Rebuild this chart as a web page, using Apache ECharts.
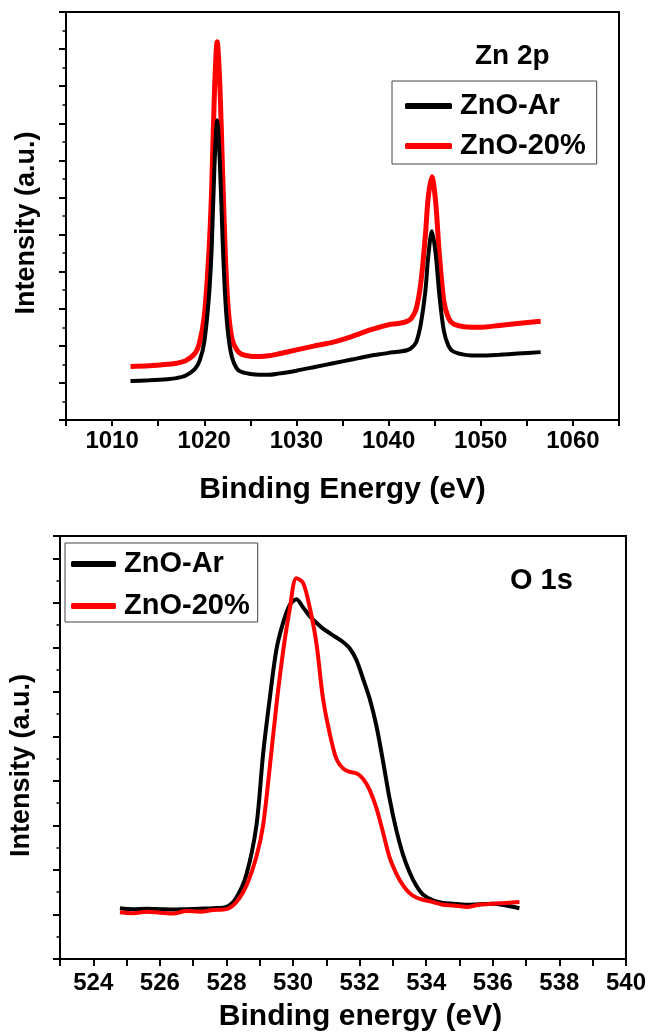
<!DOCTYPE html>
<html><head><meta charset="utf-8">
<script src="https://cdn.jsdelivr.net/npm/echarts@6/dist/echarts.min.js"></script>
<style>html,body{margin:0;padding:0;background:#fff}#c{width:649px;height:1036px}</style>
</head><body><div id="c"></div>
<script>
// ---- Zn 2p panel ----
const znEnergy = [1012,1014,1016,1017,1018,1019,1019.5,1020,1020.5,1020.8,1021.1,1021.4,1021.7,1022,1022.3,1022.6,1023,1023.5,1024,1025,1026,1027,1028,1030,1032,1034,1036,1038,1039,1040,1041,1042,1042.5,1043,1043.5,1044,1044.3,1044.7,1045.1,1045.5,1046,1046.5,1047,1048,1049,1050,1052,1054,1056.5];
const znAr = [1.05,1.07,1.10,1.13,1.20,1.38,1.60,2.10,3.30,4.60,6.80,8.08,6.90,4.80,3.20,2.30,1.70,1.40,1.30,1.24,1.22,1.22,1.25,1.33,1.43,1.53,1.63,1.73,1.77,1.81,1.84,1.88,1.95,2.10,2.60,3.50,4.40,5.09,4.50,3.40,2.40,2.00,1.85,1.77,1.74,1.74,1.76,1.79,1.83];
const zn20 = [1.44,1.46,1.50,1.53,1.60,1.80,2.10,2.80,4.50,6.20,8.80,10.20,9.00,6.60,4.40,3.00,2.20,1.90,1.78,1.72,1.71,1.73,1.78,1.89,2.00,2.10,2.25,2.43,2.50,2.57,2.60,2.66,2.75,3.00,3.70,5.00,6.00,6.56,5.90,4.50,3.20,2.75,2.60,2.52,2.50,2.50,2.55,2.60,2.66];
const znTickLabels = [1010,1020,1030,1040,1050,1060];

// ---- O 1s panel ----
const oEnergy = [524.8,525.2,525.6,526.0,526.4,526.8,527.2,527.6,528.0,528.3,528.6,528.9,529.1,529.3,529.5,529.7,529.9,530.1,530.3,530.5,530.7,530.9,531.1,531.3,531.5,531.7,531.9,532.1,532.3,532.5,532.7,532.9,533.1,533.3,533.5,533.7,533.9,534.2,534.5,534.8,535.2,535.6,536.0,536.4,536.8];
const oAr = [1.14,1.12,1.13,1.12,1.11,1.12,1.13,1.14,1.17,1.38,1.90,3.00,4.60,5.85,6.95,7.55,7.95,8.08,7.90,7.70,7.55,7.42,7.32,7.22,7.12,6.98,6.72,6.30,5.85,5.25,4.45,3.60,2.90,2.35,1.95,1.65,1.45,1.32,1.26,1.24,1.22,1.23,1.24,1.20,1.14];
const o20 = [1.05,1.03,1.06,1.04,1.02,1.08,1.06,1.10,1.12,1.28,1.65,2.30,3.00,4.30,5.70,6.90,7.85,8.55,8.45,7.90,7.10,5.85,5.07,4.50,4.28,4.20,4.17,4.05,3.80,3.40,2.85,2.28,1.92,1.66,1.48,1.38,1.33,1.28,1.22,1.20,1.17,1.22,1.24,1.26,1.28];
const oTickLabels = [524,526,528,530,532,534,536,538,540];

const seriesNames = ['ZnO-Ar','ZnO-20%'];
const colors = {'ZnO-Ar':'#000000','ZnO-20%':'#ff0000'};
const FONT = 'Liberation Sans, Arial, sans-serif';

const pairs = (xs, ys) => xs.map((x, i) => [x, ys[i]]);

const axisLineStyle = {show:true, lineStyle:{color:'#000', width:2}};
function xAxisCfg(grid, min, max, labels, name, gap, namePad, margin, tickLen){
  return {
    type:'value', gridIndex:grid, min:min, max:max, interval:1*(grid===0?5:1),
    axisLine: axisLineStyle,
    axisTick:{show:true, length:tickLen, lineStyle:{color:'#000', width:2}},
    splitLine:{show:false},
    axisLabel:{formatter:v => labels.includes(v) ? String(v) : '', fontSize:24, fontWeight:'bold',
      color:'#000', fontFamily:FONT, margin:margin, showMinLabel:true, showMaxLabel:true},
    name:name, nameLocation:'middle', nameGap:gap,
    nameTextStyle:{fontSize:30, fontWeight:'bold', color:'#000', fontFamily:FONT, padding:namePad}
  };
}
function yAxisCfg(grid, max, gap, namePad){
  return {
    type:'value', gridIndex:grid, min:0, max:max, interval:1,
    axisLine: axisLineStyle,
    axisTick:{show:true, length:7, lineStyle:{color:'#000', width:2}},
    minorTick:{show:true, splitNumber:2, length:3.5, lineStyle:{color:'#000', width:1.5}},
    splitLine:{show:false}, minorSplitLine:{show:false},
    axisLabel:{show:false},
    name:'Intensity (a.u.)', nameLocation:'middle', nameGap:gap,
    nameTextStyle:{fontSize:27, fontWeight:'bold', color:'#000', fontFamily:FONT, padding:namePad}
  };
}
function lineSeries(name, xi, data, width){
  return {type:'line', name:name, xAxisIndex:xi, yAxisIndex:xi, data:data, showSymbol:false,
    smooth:0.3, lineStyle:{color:colors[name], width:width}, itemStyle:{color:colors[name]}};
}
const legendText = {fontSize:29, fontWeight:'bold', color:'#000', fontFamily:FONT, padding:[0,0,0,3], lineHeight:30};

const chart = echarts.init(document.getElementById('c'), null, {renderer:'canvas'});
chart.setOption({
  animation:false,
  backgroundColor:'#fff',
  textStyle:{fontFamily:FONT},
  title:[
    {text:'Zn 2p', left:470, top:37, textStyle:{fontSize:28, fontWeight:'bold', color:'#000', fontFamily:FONT}},
    {text:'O 1s', left:505, top:561, textStyle:{fontSize:29, fontWeight:'bold', color:'#000', fontFamily:FONT}}
  ],
  legend:[
    {data:seriesNames, orient:'vertical', left:392, top:81, itemWidth:47, itemHeight:6, itemGap:10,
     icon:'roundRect', borderColor:'#444', borderWidth:1, padding:[10,11,3,13], textStyle:legendText},
    {data:seriesNames, orient:'vertical', left:65, top:543, itemWidth:45, itemHeight:6, itemGap:12,
     icon:'roundRect', borderColor:'#444', borderWidth:1, padding:[6,8,1,6], textStyle:legendText}
  ],
  grid:[
    {left:66, top:12, width:553, height:408, show:true, borderColor:'#000', borderWidth:2, backgroundColor:'transparent'},
    {left:60, top:536, width:567, height:423, show:true, borderColor:'#000', borderWidth:2, backgroundColor:'transparent'}
  ],
  xAxis:[
    xAxisCfg(0, 1005, 1065, znTickLabels, 'Binding Energy (eV)', 55, [0,0,0,0], 9, 6),
    xAxisCfg(1, 523, 540, oTickLabels, 'Binding energy (eV)', 43, [0,0,0,35], 12, 7)
  ],
  yAxis:[
    yAxisCfg(0, 11, 26, [0,14,0,0]),
    yAxisCfg(1, 9.5, 25, [0,36,0,0])
  ],
  series:[
    lineSeries('ZnO-20%', 0, pairs(znEnergy, zn20), 5),
    lineSeries('ZnO-Ar', 0, pairs(znEnergy, znAr), 4),
    lineSeries('ZnO-Ar', 1, pairs(oEnergy, oAr), 4),
    lineSeries('ZnO-20%', 1, pairs(oEnergy, o20), 4)
  ]
});
</script></body></html>
